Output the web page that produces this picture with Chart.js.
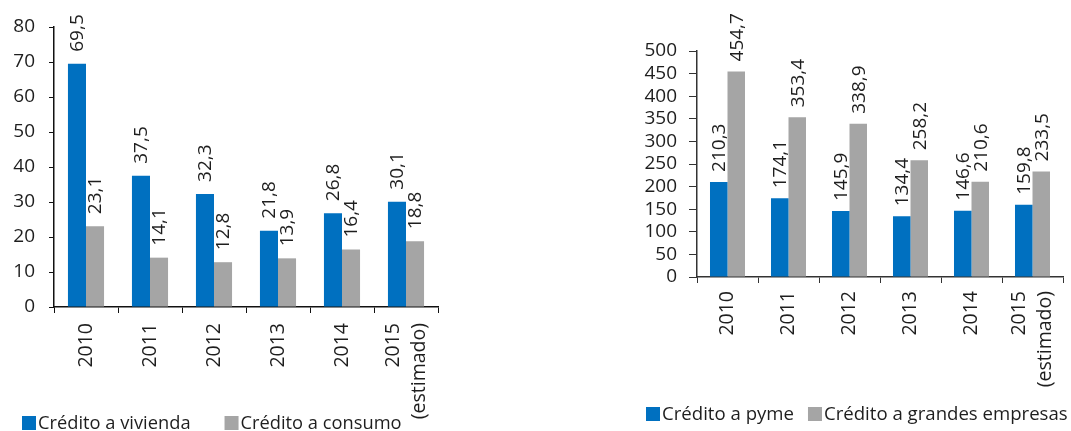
<!DOCTYPE html>
<html>
<head>
<meta charset="utf-8">
<script src="https://cdn.jsdelivr.net/npm/chart.js@4"></script>
<style>
  body { margin: 0; background: #fff; width: 1071px; height: 431px; position: relative; overflow: hidden; }
  .box { position: absolute; top: 0; height: 431px; }
  #left-box { left: 0; width: 440px; }
  #right-box { left: 620px; width: 451px; }
</style>
</head>
<body>
<div class="box" id="left-box"><canvas id="left-chart"></canvas></div>
<div class="box" id="right-box"><canvas id="right-chart"></canvas></div>
<script>
const years = ['2010', '2011', '2012', '2013', '2014', ['2015', '(estimado)']];
const vivienda = [69.5, 37.5, 32.3, 21.8, 26.8, 30.1];
const consumo = [23.1, 14.1, 12.8, 13.9, 16.4, 18.8];
const pyme = [210.3, 174.1, 145.9, 134.4, 146.6, 159.8];
const grandes = [454.7, 353.4, 338.9, 258.2, 210.6, 233.5];

const blue = '#0070C0';
const gray = '#A5A5A5';
const textColor = '#1e1e1e';
const fontFamily = '"Open Sans", Lato, sans-serif';

const fmt = v => v.toFixed(1).replace('.', ',');

// vertical value labels above each bar
const barLabels = {
  id: 'barLabels',
  afterDatasetsDraw(chart, args, opts) {
    const ctx = chart.ctx;
    ctx.save();
    ctx.font = '19px ' + fontFamily;
    ctx.fillStyle = textColor;
    ctx.textAlign = 'left';
    ctx.textBaseline = 'middle';
    chart.data.datasets.forEach((ds, i) => {
      chart.getDatasetMeta(i).data.forEach((bar, j) => {
        ctx.save();
        ctx.translate(bar.x + 1, bar.y - opts.gap);
        ctx.rotate(-Math.PI / 2);
        ctx.fillText(fmt(ds.data[j]), 0, 0);
        ctx.restore();
      });
    });
    ctx.restore();
  }
};

// two-line rotated tick label: centre the pair of lines on its tick
const centerMultiLine = {
  id: 'centerMultiLine',
  beforeDraw(chart) {
    const sc = chart.scales.x;
    const items = sc.getLabelItems(chart.chartArea);
    items.forEach(item => {
      if (Array.isArray(item.label) && !item._centered) {
        const lh = sc._resolveTickFontOptions(0).lineHeight;
        item.options.translation[0] -= lh * (item.label.length - 1) / 2;
        item._centered = true;
      }
    });
  }
};

// legend with small squares, placed where the original has it
const boxLegend = {
  id: 'boxLegend',
  afterDraw(chart, args, opts) {
    const ctx = chart.ctx;
    ctx.save();
    ctx.font = opts.size + 'px ' + fontFamily;
    ctx.textBaseline = 'middle';
    ctx.textAlign = 'left';
    let x = opts.x;
    chart.data.datasets.forEach(ds => {
      ctx.fillStyle = ds.backgroundColor;
      ctx.fillRect(x, opts.y - 7, 14, 14);
      ctx.fillStyle = textColor;
      ctx.fillText(ds.label, x + 16, opts.y + 1);
      x += 16 + ctx.measureText(ds.label).width + opts.gap;
    });
    ctx.restore();
  }
};

function makeChart(canvasId, labelA, dataA, labelB, dataB, yMax, yStep, s) {
  const cfg = {
    type: 'bar',
    data: {
      labels: years,
      datasets: [
        { label: labelA, data: dataA, backgroundColor: blue, barPercentage: 1, categoryPercentage: s.catPct },
        { label: labelB, data: dataB, backgroundColor: gray, barPercentage: 1, categoryPercentage: s.catPct }
      ]
    },
    options: {
      responsive: true,
      maintainAspectRatio: false,
      animation: false,
      devicePixelRatio: 1,
      layout: { padding: s.pad },
      plugins: {
        legend: { display: false },
        tooltip: { enabled: false },
        barLabels: { gap: s.labelGap },
        boxLegend: s.legend
      },
      scales: {
        x: {
          afterFit: sc => {
            sc.height = s.axisH;
            // keep the plot width fixed; the rotated labels fit inside their slots
            sc.paddingLeft = 0;
            sc.paddingRight = 0;
          },
          border: { color: s.axisColor, width: 1.5 },
          grid: { drawOnChartArea: false, drawTicks: true, tickLength: 6, color: s.axisColor, offset: true },
          ticks: {
            color: textColor,
            font: { family: fontFamily, size: 19.5, lineHeight: 1.33 },
            maxRotation: 90,
            minRotation: 90,
            autoSkip: false,
            padding: s.xPad
          }
        },
        y: {
          min: 0,
          max: yMax,
          afterFit: sc => { sc.width = s.axisW; },
          border: { color: s.axisColor, width: 1.5 },
          grid: { drawOnChartArea: false, drawTicks: true, tickLength: s.yTick, color: s.axisColor },
          ticks: {
            stepSize: yStep,
            autoSkip: false,
            color: textColor,
            font: { family: fontFamily, size: 19 },
            padding: s.yPad
          }
        }
      }
    },
    plugins: [barLabels, centerMultiLine, boxLegend]
  };
  return new Chart(document.getElementById(canvasId), cfg);
}

makeChart('left-chart', 'Crédito a vivienda', vivienda, 'Crédito a consumo', consumo, 80, 10, {
  catPct: 0.564, axisW: 54, axisH: 124, yTick: 5, yPad: 14, xPad: 10, labelGap: 12,
  pad: { top: 27, right: 2, left: 0, bottom: 0 },
  legend: { x: 22, y: 423, gap: 34, size: 18.3 },
  axisColor: '#111'
});

makeChart('right-chart', 'Crédito a pyme', pyme, 'Crédito a grandes empresas', grandes, 500, 50, {
  catPct: 0.574, axisW: 77, axisH: 154, yTick: 8, yPad: 12, xPad: 8, labelGap: 10,
  pad: { top: 51, right: 8, left: 0, bottom: 0 },
  legend: { x: 26, y: 414, gap: 14, size: 18.6 },
  axisColor: '#333'
});
</script>
</body>
</html>
